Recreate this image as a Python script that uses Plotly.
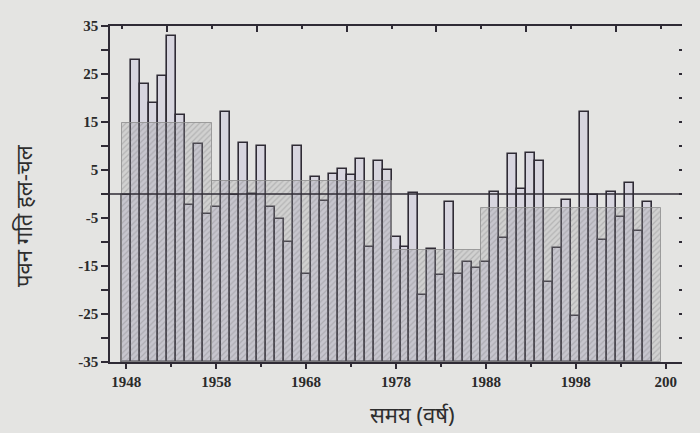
import plotly.graph_objects as go

# ---- data ----
years = list(range(1948, 2007))
values = [-0.2, 28, 23, 19, 24.6, 33, 16.5, -2.3, 10.4, -4.2,
          -2.8, 17, -0.2, 10.6, 0, 10, -2.7, -5.2, -10, 10.1,
          -16.6, 3.5, -1.4, 4.2, 5.3, 4.0, 7.2, -11, 6.9, 5.1,
          -9, -11, 0.3, -21, -11.5, -16.9, -1.6, -16.7, -14.1, -15.5,
          -14.1, 0.5, -9.2, 8.3, 1.0, 8.6, 6.9, -18.4, -11.3, -1.25,
          -25.4, 17, -0.2, -9.6, 0.5, -4.7, 2.2, -7.7, -1.6]
period_start = [1948, 1958, 1978, 1988]
period_end = [1957, 1977, 1987, 2007]
period_mean = [14.8, 2.7, -11.7, -3.0]

y_floor = -35
y_ticks = [-35, -30, -25, -20, -15, -10, -5, 0, 5, 10, 15, 20, 25, 30, 35]
y_labels = ["-35", "", "-25", "", "-15", "", "-5", "", "5", "", "15", "", "25", "", "35"]
x_ticks = [1948, 1958, 1968, 1978, 1988, 1998, 2008]
x_labels = ["1948", "1958", "1968", "1978", "1988", "1998", "200"]
x_minor = [1953, 1963, 1973, 1983, 1993, 2003]
top_major = [1952.5, 1962.5, 1972.5, 1982.5, 1992.5, 2002.5]
top_minor = [1947.5, 1957.5, 1967.5, 1977.5, 1987.5, 1997.5, 2007.5]
x_range = [1946.2, 2009.8]

bg = "#e4e4e2"
ink = "#2f2b35"

fig = go.Figure()

fig.add_trace(go.Bar(
    x=years, y=[v - y_floor for v in values], base=y_floor, width=1,
    marker=dict(color="#d7d5df", line=dict(color=ink, width=1.6)),
    showlegend=False,
))

fig.add_trace(go.Bar(
    x=[(s + e) / 2 for s, e in zip(period_start, period_end)],
    y=[m - y_floor for m in period_mean], base=y_floor,
    width=[e - s + 1 for s, e in zip(period_start, period_end)],
    marker=dict(color="rgba(150,150,155,0.25)",
                line=dict(color="rgba(140,140,140,0.8)", width=1),
                pattern=dict(shape="/", fgcolor="rgba(110,110,115,0.6)",
                             size=4, solidity=0.3)),
    showlegend=False,
))

# invisible trace to anchor mirror axes
fig.add_trace(go.Scatter(x=x_range, y=[0, 0], xaxis="x2", yaxis="y2",
                         mode="lines", line=dict(width=0), opacity=0,
                         showlegend=False, hoverinfo="skip"))

fig.add_hline(y=0, line=dict(color=ink, width=1.6), layer="above")

tickfont = dict(family="Liberation Serif", size=15, color="#2a2a2a", weight="bold")
titlefont = dict(family="Noto Sans, sans-serif", size=22, color="#2e2e2e")

fig.update_layout(
    width=700, height=433,
    margin=dict(l=110, r=18, t=26, b=71),
    paper_bgcolor=bg, plot_bgcolor=bg,
    barmode="overlay", bargap=0,
    xaxis=dict(range=x_range, tickmode="array", tickvals=x_ticks, ticktext=x_labels,
               ticks="outside", ticklen=5, tickwidth=1.5, tickcolor=ink,
               minor=dict(tickmode="array", tickvals=x_minor, ticks="outside", ticklen=3,
                          tickwidth=1.5, tickcolor=ink),
               showline=True, linecolor=ink, linewidth=1.6, showgrid=False,
               zeroline=False, tickfont=tickfont),
    xaxis2=dict(range=x_range, overlaying="x", side="top", tickmode="array",
                tickvals=top_major, ticks="inside", ticklen=6, tickwidth=1.5, tickcolor=ink,
                minor=dict(tickmode="array", tickvals=top_minor, ticks="inside", ticklen=3,
                           tickwidth=1.5, tickcolor=ink),
                showticklabels=False, showline=True, linecolor=ink, linewidth=1.6,
                showgrid=False, zeroline=False),
    yaxis=dict(range=[-35, 35], tickmode="array", tickvals=y_ticks, ticktext=y_labels,
               ticks="outside", ticklen=7, tickwidth=1.5, tickcolor=ink,
               showline=True, linecolor=ink, linewidth=1.6, showgrid=False,
               zeroline=False, tickfont=tickfont),
    yaxis2=dict(range=[-35, 35], overlaying="y", side="right", tickmode="array",
                tickvals=y_ticks, ticks="inside", ticklen=3, tickwidth=2, tickcolor=ink,
                showticklabels=False, showline=False, showgrid=False, zeroline=False),
    annotations=[
        dict(text="पवन गति हल-चल", xref="paper", yref="paper", x=-0.182, y=0.4375,
             textangle=-90, showarrow=False, font=titlefont),
        dict(text="समय (वर्ष)", xref="paper", yref="paper", x=0.528, y=-0.205,
             showarrow=False, font=titlefont),
    ],
)

fig.write_html("out.html", config={"displayModeBar": False},
               post_script="document.body.style.margin='0';document.body.style.background='%s';" % bg)
